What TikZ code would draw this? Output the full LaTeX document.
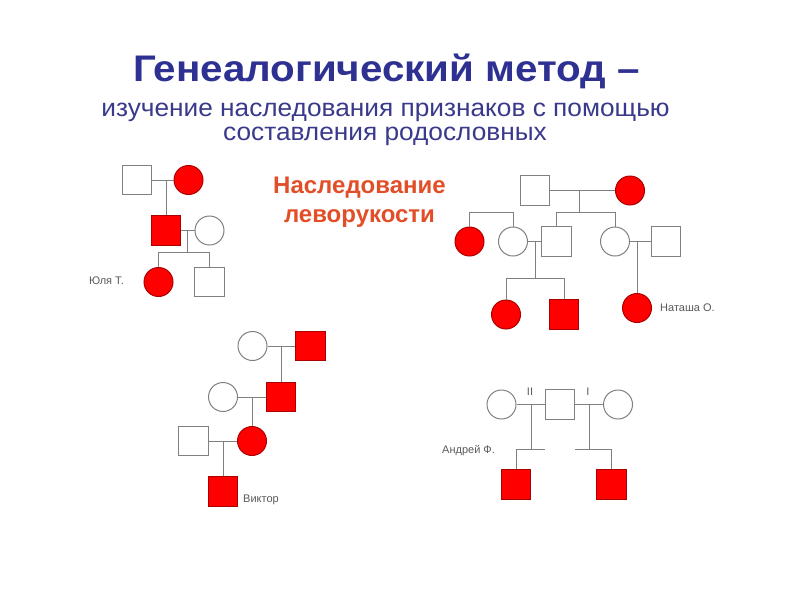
\documentclass[tikz,border=0pt]{standalone}
\usepackage{fontspec}
\setmainfont{Liberation Sans}
\newfontfamily\titlefont[FakeStretch=1.09]{Liberation Sans}
\newfontfamily\subfont[FakeStretch=1.05]{Liberation Sans}
\definecolor{titleblue}{RGB}{46,49,146}
\definecolor{subblue}{RGB}{58,58,140}
\definecolor{orangered}{RGB}{226,78,40}
\definecolor{lncol}{RGB}{128,128,128}
\definecolor{affred}{RGB}{255,0,0}
\definecolor{affedge}{RGB}{170,0,0}
\definecolor{lblgray}{RGB}{90,90,90}
\tikzset{
  ln/.style={draw=lncol, line width=1pt},
  sqbox/.style={rectangle, draw=lncol, line width=1pt, fill=white, minimum size=29.5pt, inner sep=0pt},
  cibox/.style={circle, draw=lncol, line width=1pt, fill=white, minimum size=29pt, inner sep=0pt},
  aff/.style={fill=affred, draw=affedge},
  lbl/.style={font=\fontsize{11}{13}\selectfont, text=lblgray, inner sep=0pt},
}
\begin{document}
\begin{tikzpicture}[x=1pt,y=-1pt]
\useasboundingbox (0,0) rectangle (800,600);
\fill[white] (0,0) rectangle (800,600);
% titles
\node[font=\titlefont\fontsize{37}{40}\selectfont\bfseries, text=titleblue, anchor=base] (t1) at (386.5,81.7) {Генеалогический метод –};
\node[font=\subfont\fontsize{25}{28}\selectfont, text=subblue, anchor=base] (t2) at (385.5,116) {изучение наследования признаков с помощью};
\node[font=\subfont\fontsize{25}{28}\selectfont, text=subblue, anchor=base] (t3) at (385,140.7) {составления родословных};
\node[font=\fontsize{24}{27}\selectfont\bfseries, text=orangered, anchor=base] (t4) at (359.5,193.3) {Наследование};
\node[font=\fontsize{24}{27}\selectfont\bfseries, text=orangered, anchor=base] (t5) at (359.5,222) {леворукости};

% ---------- pedigree 1 ----------
\node[sqbox] (p1f) at (137,180) {};
\node[cibox,aff] (p1m) at (188.5,180) {};
\node[sqbox,aff] (p1s) at (166,230.5) {};
\node[cibox] (p1w) at (209.5,230.5) {};
\node[cibox,aff] (p1c1) at (158.5,282) {};
\node[sqbox] (p1c2) at (209.5,282) {};
\coordinate (p1j1) at (166,180);
\coordinate (p1j2) at (187,230.5);
\coordinate (p1k) at (187,252);
\draw[ln] (p1f) -- (p1m);
\draw[ln] (p1j1) -- (p1s.north);
\draw[ln] (p1s) -- (p1w);
\draw[ln] (p1j2) -- (p1k);
\draw[ln] (p1c1.north) |- (p1k);
\draw[ln] (p1c2.north) |- (p1k);
\node[lbl, anchor=east] (p1l) at (124,281) {Юля Т.};

% ---------- pedigree 2 ----------
\node[sqbox] (p2f) at (535,190.5) {};
\node[cibox,aff] (p2m) at (630,190.5) {};
\node[cibox,aff] (p2a) at (469.5,241.5) {};
\node[cibox] (p2b) at (513,241.5) {};
\node[sqbox] (p2c) at (556.5,241.5) {};
\node[cibox] (p2d) at (615,241.5) {};
\node[sqbox] (p2e) at (666,241.5) {};
\node[cibox,aff] (p2g1) at (506,314.5) {};
\node[sqbox,aff] (p2g2) at (564,314.5) {};
\node[cibox,aff] (p2g3) at (637,308) {};
\coordinate (p2j1) at (579,190.5);
\coordinate (p2k1) at (579,212);
\coordinate (p2k0) at (490,212);
\coordinate (p2j2) at (535,241.5);
\coordinate (p2k2) at (535,278);
\coordinate (p2j3) at (637,241.5);
\draw[ln] (p2f) -- (p2m);
\draw[ln] (p2j1) -- (p2k1);
\draw[ln] (p2c.north) |- (p2k1);
\draw[ln] (p2d.north) |- (p2k1);
\draw[ln] (p2a.north) |- (p2k0);
\draw[ln] (p2b.north) |- (p2k0);
\draw[ln] (p2b) -- (p2c);
\draw[ln] (p2j2) -- (p2k2);
\draw[ln] (p2g1.north) |- (p2k2);
\draw[ln] (p2g2.north) |- (p2k2);
\draw[ln] (p2d) -- (p2e);
\draw[ln] (p2j3) -- (p2g3.north);
\node[lbl, anchor=west] (p2l) at (660,308) {Наташа О.};

% ---------- pedigree 3 ----------
\node[cibox] (p3a) at (252.5,346) {};
\node[sqbox,aff] (p3b) at (310.5,346) {};
\node[sqbox,aff] (p3c) at (281,397) {};
\node[cibox] (p3d) at (223,397) {};
\node[cibox,aff] (p3e) at (252,441) {};
\node[sqbox] (p3f) at (193.5,441) {};
\node[sqbox,aff] (p3g) at (223,491.5) {};
\coordinate (p3j1) at (281,346);
\coordinate (p3j2) at (252,397);
\coordinate (p3j3) at (223,441);
\draw[ln] (p3a) -- (p3b);
\draw[ln] (p3j1) -- (p3c.north);
\draw[ln] (p3d) -- (p3c);
\draw[ln] (p3j2) -- (p3e.north);
\draw[ln] (p3f) -- (p3e);
\draw[ln] (p3j3) -- (p3g.north);
\node[lbl, anchor=west] (p3l) at (243,500) {Виктор};

% ---------- pedigree 4 ----------
\node[cibox] (p4a) at (501.5,404.5) {};
\node[sqbox] (p4b) at (560,404.5) {};
\node[cibox] (p4c) at (618,404.5) {};
\node[sqbox,aff] (p4d) at (516,484.5) {};
\node[sqbox,aff] (p4e) at (611.5,484.5) {};
\coordinate (p4j1) at (531,404.5);
\coordinate (p4k1) at (531,449);
\coordinate (p4r1) at (545,449);
\coordinate (p4j2) at (589,404.5);
\coordinate (p4k2) at (589,449);
\coordinate (p4r2) at (575,449);
\draw[ln] (p4a) -- (p4b);
\draw[ln] (p4b) -- (p4c);
\draw[ln] (p4j1) -- (p4k1);
\draw[ln] (p4d.north) |- (p4r1);
\draw[ln] (p4j2) -- (p4k2);
\draw[ln] (p4e.north) |- (p4r2);
\node[lbl] (p4n2) at (530,392) {II};
\node[lbl] (p4n1) at (588,392) {I};
\node[lbl, anchor=west] (p4l) at (442,451) {Андрей Ф.};
\end{tikzpicture}
\end{document}
